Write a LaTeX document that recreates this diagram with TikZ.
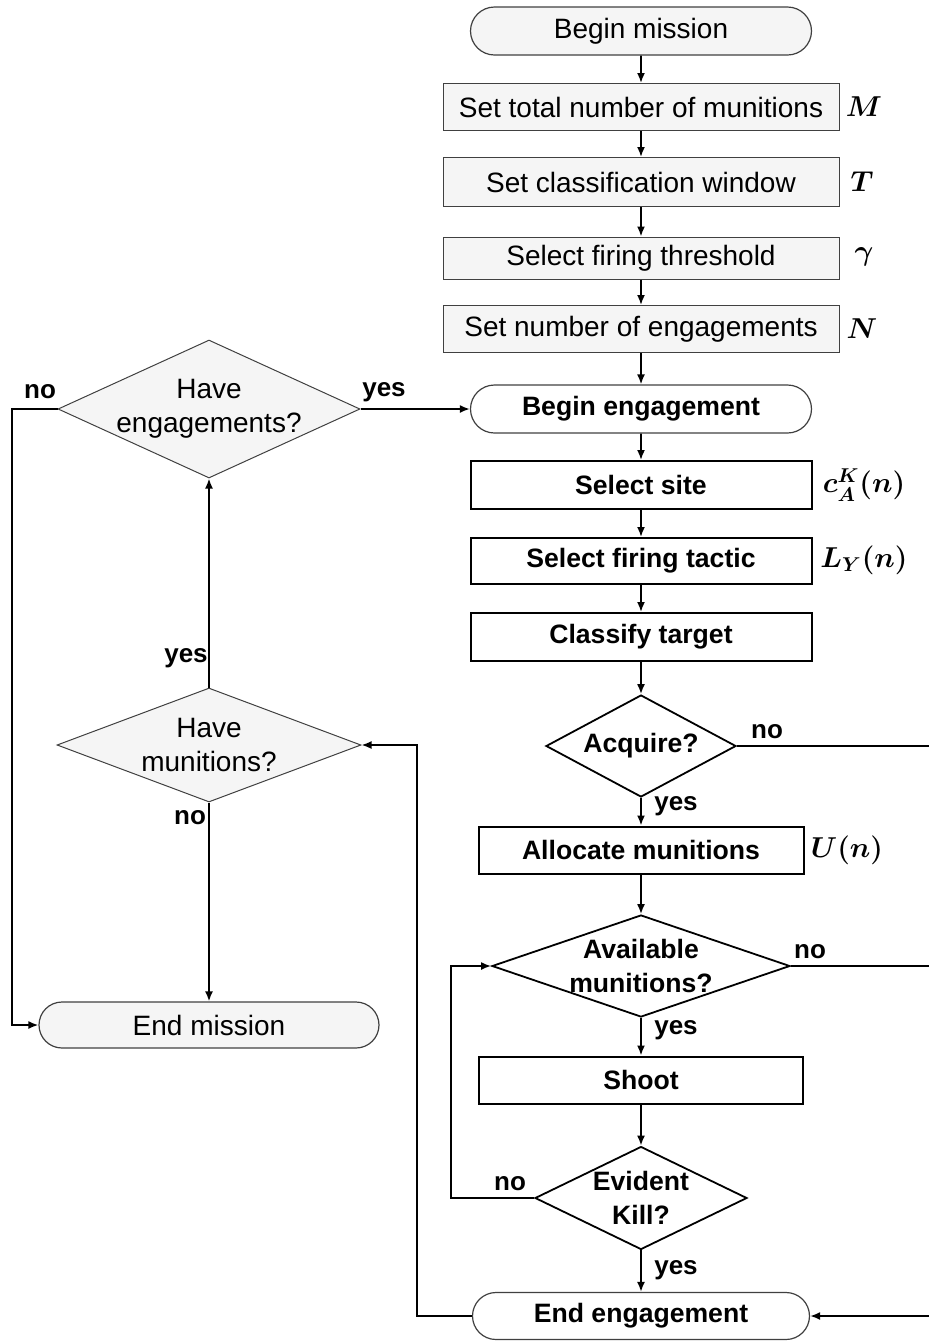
\documentclass[tikz,border=0pt]{standalone}
\usepackage{fontspec}
\setmainfont{Liberation Sans}
\usetikzlibrary{shapes.geometric,shapes.misc,arrows.meta}
\definecolor{boxgray}{HTML}{F5F5F5}

\tikzset{
  every node/.style={font=\fontsize{14}{17}\selectfont},
  boldtext/.style={font=\bfseries\fontsize{13.3}{17}\selectfont},
  term/.style={rounded rectangle, draw=black!75, line width=0.6pt, minimum width=170.5pt, minimum height=24pt, inner sep=0pt},
  termgray/.style={term, fill=boxgray},
  setbox/.style={rectangle, draw=black!75, fill=boxgray, line width=0.5pt, minimum width=198pt, minimum height=23.5pt, inner sep=0pt},
  actbox/.style={rectangle, draw, line width=1pt, minimum width=170.5pt, minimum height=24pt, inner sep=0pt, boldtext},
  ask/.style={diamond, draw, line width=0.9pt, inner sep=-2pt, align=center, boldtext},
  askgray/.style={diamond, draw=black!75, fill=boxgray, line width=0.5pt, inner sep=-2pt, align=center},
  ans/.style={font=\bfseries\fontsize{13}{15}\selectfont, inner sep=0pt},
  sym/.style={inner sep=0pt, font=\fontsize{14}{16}\selectfont\boldmath},
  arr/.style={-{Latex[length=5pt,width=4pt]}, line width=0.9pt},
  wire/.style={line width=0.9pt}
}

\begin{document}
\begin{tikzpicture}[x=0.5pt,y=-0.5pt]
\useasboundingbox (0,0) rectangle (928,1341);

\node[termgray] (bm) at (641,31) {Begin mission};
\node[setbox] (total) at (641,107) {Set total number of munitions};
\node[setbox, minimum height=24.5pt] (window) at (641,182) {Set classification window};
\node[setbox, minimum height=21pt] (thresh) at (641,258) {Select firing threshold};
\node[setbox] (engnum) at (641,329) {Set number of engagements};

\node[term, boldtext] (beng) at (641,409) {Begin engagement};
\node[actbox] (site) at (641,485) {Select site};
\node[actbox, minimum height=23pt] (tactic) at (641,561) {Select firing tactic};
\node[actbox] (classify) at (641,637) {Classify target};
\node[ask, aspect=1.86, minimum width=95pt, minimum height=51pt] (acquire) at (641,746) {Acquire?};
\node[actbox, minimum width=162.5pt, minimum height=23.5pt] (alloc) at (641,850) {Allocate munitions};
\node[ask, aspect=2.92, minimum width=149pt, minimum height=51pt] (avail) at (641,966) {Available\\munitions?};
\node[actbox, minimum width=162pt, minimum height=23.5pt] (shoot) at (641,1080) {Shoot};
\node[ask, aspect=2.06, minimum width=106pt, minimum height=51.5pt] (kill) at (641,1198) {Evident\\Kill?};
\node[term, boldtext, minimum width=168.5pt, minimum height=23.5pt] (eeng) at (641,1316) {End engagement};

\node[askgray, aspect=2.19, minimum width=151pt, minimum height=69pt] (haveeng) at (209,409) {Have\\engagements?};
\node[askgray, aspect=2.67, minimum width=152pt, minimum height=57pt] (havemun) at (209,745) {Have\\munitions?};
\node[termgray, minimum width=170pt, minimum height=23pt] (emission) at (209,1025) {End mission};

\node[sym] (symM) at (864,107) {$M$};
\node[sym] (symT) at (862,182) {$T$};
\node[sym] (symgamma) at (864,257) {$\gamma$};
\node[sym] (symN) at (862,329) {$N$};
\node[sym] (symsite) at (864,485) {$c^{K}_{A}(n)$};
\node[sym] (symtactic) at (864,560) {$L_{Y}(n)$};
\node[sym] (symalloc) at (847,850) {$U(n)$};

\coordinate (leftrail) at (12,0);
\coordinate (backrail) at (417,0);
\coordinate (killrail) at (451,0);
\coordinate (rightrail) at (940,0);

\foreach \a/\b in {bm/total,total/window,window/thresh,thresh/engnum,engnum/beng,beng/site,site/tactic,tactic/classify,classify/acquire,acquire/alloc,alloc/avail,avail/shoot,shoot/kill,kill/eeng,havemun/haveeng,havemun/emission}
  \draw[arr] (\a) -- (\b);

\draw[arr] (haveeng.east) -- (beng.west);
\draw[arr] (haveeng.west) -- (leftrail |- haveeng.west) |- (emission.west);
\draw[arr] (acquire.east) -- (acquire.east -| rightrail) |- (eeng.east);
\draw[wire] (avail.east) -- (avail.east -| rightrail);
\draw[arr] (kill.west) -- (killrail |- kill.west) |- (avail.west);
\draw[arr] (eeng.west) -- (backrail |- eeng.west) |- (havemun.east);

\node[ans] (noeng) at (40,392) {no};
\node[ans] (yeseng) at (384,392) {yes};
\node[ans] (yesmun) at (186,658) {yes};
\node[ans] (nomun) at (190,818) {no};
\node[ans] (noacq) at (767,732) {no};
\node[ans] (yesacq) at (676,806) {yes};
\node[ans] (noavail) at (810,952) {no};
\node[ans] (yesavail) at (676,1030) {yes};
\node[ans] (nokill) at (510,1184) {no};
\node[ans] (yeskill) at (676,1270) {yes};
\end{tikzpicture}
\end{document}
